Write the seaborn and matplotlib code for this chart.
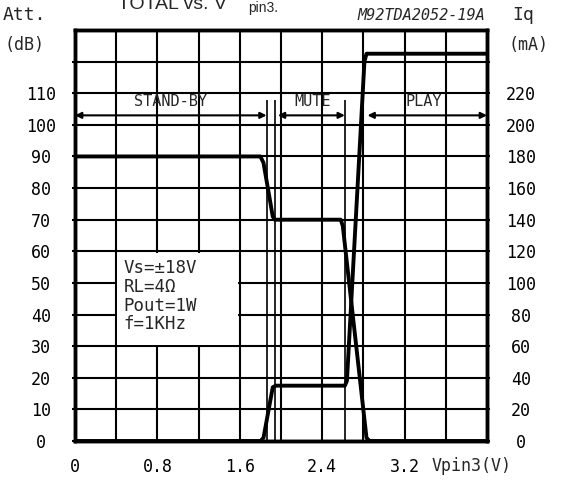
import numpy as np
import pandas as pd
import matplotlib
matplotlib.use('Agg')
import matplotlib.pyplot as plt
from matplotlib.patches import Rectangle
import seaborn as sns

# datos
v_att = [0.0, 1.80, 1.83, 1.92, 1.94, 2.58, 2.60, 2.83, 2.86, 4.0]
att_db = [90, 90, 88, 71, 70, 70, 68, 1, 0, 0]

v_iq = [0.0, 1.80, 1.83, 1.92, 1.95, 2.62, 2.64, 2.81, 2.83, 4.0]
iq_ma = [0, 0, 2, 34, 35, 35, 38, 240, 245, 245]

x_major = [0, 0.8, 1.6, 2.4, 3.2]
x_minor = [0.4, 1.2, 2.0, 2.8, 3.6]
y_left = list(range(0, 121, 10))
y_left_lab = [str(v) for v in range(0, 111, 10)] + ['']
y_right = list(range(0, 241, 20))
y_right_lab = [str(v) for v in range(0, 221, 20)] + ['']

# zonas: (etiqueta, inicio, fin, centro texto)
zonas = [("STAND-BY", 0.0, 1.86, 0.93), ("MUTE", 1.97, 2.62, 2.31), ("PLAY", 2.84, 4.0, 3.39)]
marcas = [1.86, 1.94, 2.62]
condiciones = "Vs=±18V\nRL=4Ω\nPout=1W\nf=1KHz"

df_att = pd.DataFrame({"V": v_att, "Att": att_db})
df_iq = pd.DataFrame({"V": v_iq, "Iq": iq_ma})

sns.set_theme(style="white")
mono = ['DejaVu Sans Mono']
plt.rcParams['font.family'] = mono

W, H = 565, 482
fig = plt.figure(figsize=(W / 100, H / 100), dpi=100)
ax = fig.add_axes([75 / W, 41 / H, 412 / W, 411 / H])
ax2 = ax.twinx()

sns.lineplot(data=df_att, x="V", y="Att", ax=ax, color="black", lw=2.8, sort=False, zorder=3)
sns.lineplot(data=df_iq, x="V", y="Iq", ax=ax2, color="black", lw=2.8, sort=False, zorder=3)

ax.set_xlim(0, 4.0)
ax.set_ylim(0, 130)
ax2.set_ylim(0, 260)

ax.set_xticks(x_major)
ax.set_xticklabels(['0', '0.8', '1.6', '2.4', '3.2'])
ax.set_xticks(x_minor, minor=True)
ax.set_yticks(y_left)
ax.set_yticklabels(y_left_lab)
ax2.set_yticks(y_right)
ax2.set_yticklabels(y_right_lab)

ax.set_axisbelow(True)
ax.grid(True, which='both', color='black', lw=1.5)
for a in (ax, ax2):
    a.set_xlabel("")
    a.set_ylabel("")
    for s in a.spines.values():
        s.set_linewidth(2.5)
        s.set_color('black')

ax.tick_params(axis='y', length=2, width=1.5, pad=22.5, labelsize=12, colors='black')
ax.tick_params(axis='x', which='both', length=0, pad=12, labelsize=12, colors='black')
ax2.tick_params(axis='y', length=2, width=1.5, pad=22.5, labelsize=12, colors='black')
for t in ax.get_yticklabels() + ax2.get_yticklabels():
    t.set_ha('center')

# caja de condiciones
ax.add_patch(Rectangle((0.41, 30.5), 1.17, 29, fc='white', ec='none', zorder=1))
ax.text(0.47, 57.5, condiciones, va='top', ha='left', fontsize=12.5, linespacing=1.05, zorder=4)

# flechas de zonas
for nombre, x0, x1, xc in zonas:
    ax.annotate('', xy=(x1, 103), xytext=(x0, 103),
                arrowprops=dict(arrowstyle='<|-|>', color='black', lw=1.5,
                                mutation_scale=9, shrinkA=0, shrinkB=0))
    ax.text(xc, 107.5, nombre, ha='center', va='center', fontsize=11)
ax.vlines(marcas, 0, 108, color='black', lw=1.2)

# textos de la figura
fig.text(3 / W, 1 - 15 / H, "Att.", fontsize=13, va='center')
fig.text(5 / W, 1 - 45 / H, "(dB)", fontsize=12, va='center')
fig.text(512 / W, 1 - 15 / H, "Iq", fontsize=13, va='center')
fig.text(508 / W, 1 - 45 / H, "(mA)", fontsize=12, va='center')
fig.text(485 / W, 1 - 15 / H, "M92TDA2052-19A", fontsize=11, style='italic',
         ha='right', va='center')
fig.text(432 / W, 1 - 466 / H, "Vpin3(V)", fontsize=12, va='center')
fig.text(118 / W, 1 - 9 / H, "TOTAL vs. V", fontsize=14, family=['Liberation Sans'], va='baseline')
fig.text(248 / W, 1 - 12 / H, "pin3.", fontsize=10, family=['Liberation Sans'], va='baseline')

plt.savefig("out.png", dpi=100)
plt.close()
